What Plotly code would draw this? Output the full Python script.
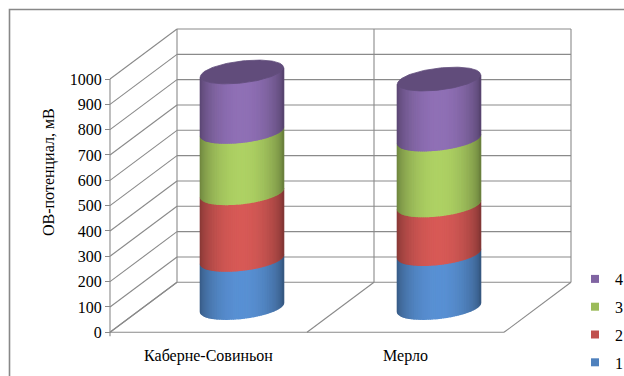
import numpy as np
import plotly.graph_objects as go

# ---- data -------------------------------------------------------------
categories = ["Каберне-Совиньон", "Мерло"]
series_names = ["1", "2", "3", "4"]
s1 = [190, 213]
s2 = [263, 192]
s3 = [242, 260]
s4 = [234, 236]
series_values = [s1, s2, s3, s4]
series_colors = ["#4F81BD", "#C0504D", "#9BBB59", "#8064A2"]
value_ticks = list(range(0, 1001, 100))
y_title = "ОВ-потенциал, мВ"

# ---- layout geometry (pixels) -----------------------------------------
W, H = 624, 376
ORIGIN_X, ORIGIN_Y = 110.0, 332.3   # front-left corner of the floor
CAT_PX = 197.0                       # one category along the front edge
UNIT_PX = 0.2533                     # pixels per mV on the front axis
DEPTH_DX_PX, DEPTH_DY_PX = 67.0, 50.0  # floor depth (right, up)
L, R, T, B = 100, 590, 20, 338       # plot area edges
PW, PH = R - L, B - T

# depth vector in data units (categories, mV)
DX = DEPTH_DX_PX / CAT_PX
DV = DEPTH_DY_PX / UNIT_PX
V_MAX = value_ticks[-1]
N_CAT = len(categories)

# cylinder shape, in data units
CYL_R = 38.3 / CAT_PX     # horizontal radius (category units)
CYL_K = 0.238             # radius along depth, as a share of the floor depth
CYL_DEPTH = 0.5           # cylinders sit half way back
N_STRIPS = 60

GRID = "#8a8a8a"
FONT = "Liberation Serif, Tinos, DejaVu Serif, serif"


def px_x(p):
    return (p - L) / PW


def px_y(p):
    return (B - p) / PH


def shade(hex_color, f):
    h = hex_color.lstrip("#")
    rgb = [int(h[i:i + 2], 16) for i in (0, 2, 4)]
    return "rgb({},{},{})".format(*[int(max(0, min(255, round(c * f)))) for c in rgb])


def ellipse(ci, v, thetas):
    xc = ci + 0.5 + CYL_DEPTH * DX
    vc = v + CYL_DEPTH * DV
    x = xc + CYL_R * np.cos(thetas) + CYL_K * DX * np.sin(thetas)
    y = vc + CYL_K * DV * np.sin(thetas)
    return x, y


fig = go.Figure()

# tangent angle of the silhouette; front half runs from pi+phi to 2pi+phi
phi = np.arctan2(CYL_K * DX, CYL_R)
th0, th1 = np.pi + phi, 2 * np.pi + phi
edges = np.linspace(th0, th1, N_STRIPS + 1)

for ci in range(N_CAT):
    xl, _ = ellipse(ci, 0, np.array([th0]))
    xr, _ = ellipse(ci, 0, np.array([th1]))
    base = 0.0
    for si, vals in enumerate(series_values):
        top = base + vals[ci]
        for k in range(N_STRIPS):
            ta, tb = edges[k], edges[k + 1]
            arc = np.linspace(ta, tb, 4)
            bx, by = ellipse(ci, base, arc)
            tx, ty = ellipse(ci, top, arc[::-1])
            xm, _ = ellipse(ci, 0, np.array([(ta + tb) / 2]))
            u = float((xm[0] - xl[0]) / (xr[0] - xl[0]))
            f = 0.68 + 0.44 * np.sin(np.pi * u) ** 0.6
            col = shade(series_colors[si], f)
            fig.add_trace(go.Scatter(
                x=np.concatenate([bx, tx, bx[:1]]),
                y=np.concatenate([by, ty, by[:1]]),
                mode="lines", fill="toself", fillcolor=col,
                line=dict(color=col, width=1.4),
                hoverinfo="skip", showlegend=False))
        base = top
    # top face of the stack
    full = np.linspace(0, 2 * np.pi, 121)
    ex, ey = ellipse(ci, base, full)
    topcol = shade(series_colors[-1], 0.76)
    fig.add_trace(go.Scatter(
        x=ex, y=ey, mode="lines", fill="toself", fillcolor=topcol,
        line=dict(color=topcol, width=0.8), hoverinfo="skip", showlegend=False))

# legend entries, last series on top
for name, col in reversed(list(zip(series_names, series_colors))):
    fig.add_trace(go.Scatter(
        x=[None], y=[None], mode="markers", name=name, legendgroup=name,
        marker=dict(symbol="square", size=8, color=col)))

# ---- walls, floor and axis line --------------------------------------
shapes = []


def seg(x0, y0, x1, y1, width=1.1):
    shapes.append(dict(type="line", xref="x", yref="y", x0=x0, y0=y0, x1=x1, y1=y1,
                       line=dict(color=GRID, width=width), layer="below"))


for v in value_ticks:
    seg(DX, v + DV, N_CAT + DX, v + DV)       # back wall
    seg(0, v, DX, v + DV)                      # side wall
for c in range(N_CAT + 1):
    seg(c + DX, DV, c + DX, V_MAX + DV)        # back wall verticals
    seg(c, 0, c + DX, DV)                      # floor depth lines
seg(0, 0, N_CAT, 0)                            # floor front edge
seg(0, -4 / UNIT_PX, 0, V_MAX)                 # value axis line

# chart border
shapes.append(dict(type="rect", xref="paper", yref="paper",
                   x0=px_x(9.5), y0=px_y(390), x1=px_x(640), y1=px_y(9.5),
                   line=dict(color="#888888", width=1.6), fillcolor="rgba(0,0,0,0)",
                   layer="above"))

fig.update_layout(
    width=W, height=H,
    margin=dict(l=L, r=W - R, t=T, b=H - B, pad=0, autoexpand=False),
    paper_bgcolor="white", plot_bgcolor="white",
    font=dict(family=FONT, size=16, color="black"),
    shapes=shapes,
    showlegend=True,
    legend=dict(x=px_x(575), y=px_y(262), xanchor="left", yanchor="top",
                traceorder="grouped", tracegroupgap=4,
                font=dict(family=FONT, size=16), bgcolor="rgba(0,0,0,0)"),
    annotations=[dict(text=y_title, xref="paper", yref="paper",
                      x=px_x(38), y=px_y(172), textangle=-90, showarrow=False,
                      font=dict(family=FONT, size=16))],
)
fig.update_xaxes(range=[(L - ORIGIN_X) / CAT_PX, (R - ORIGIN_X) / CAT_PX],
                 showgrid=False, zeroline=False, showline=False, automargin=False,
                 tickvals=[i + 0.5 for i in range(N_CAT)], ticktext=categories,
                 tickfont=dict(family=FONT, size=16),
                 ticks="", ticklabelstandoff=6, fixedrange=True)
fig.update_yaxes(range=[(ORIGIN_Y - B) / UNIT_PX, (ORIGIN_Y - T) / UNIT_PX],
                 showgrid=False, zeroline=False, showline=False, automargin=False,
                 anchor="free", position=px_x(ORIGIN_X),
                 tickvals=value_ticks, ticktext=[str(v) for v in value_ticks],
                 tickfont=dict(family=FONT, size=16),
                 ticks="outside", ticklen=5, tickcolor=GRID, tickwidth=1.1,
                 fixedrange=True)

fig.write_html("out.html")
